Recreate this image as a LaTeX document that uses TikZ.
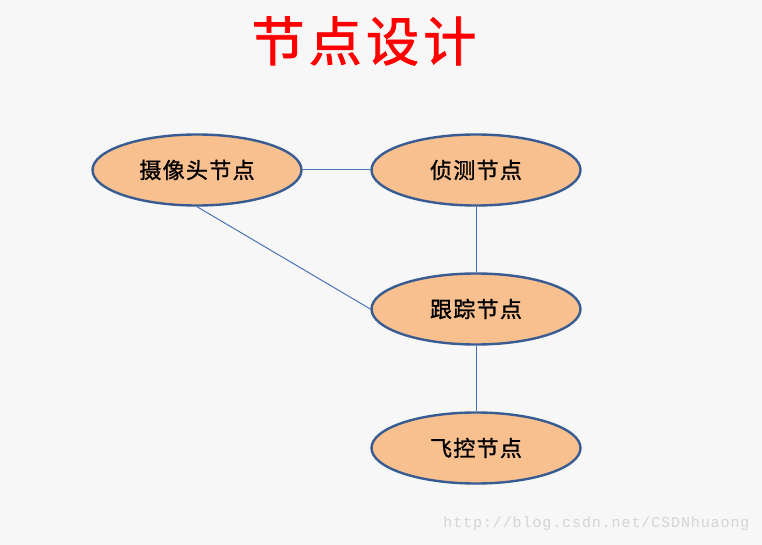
\documentclass[tikz,border=0pt]{standalone}
\usepackage{fontspec}
\setmainfont{Liberation Serif}
\newfontfamily\cjkspaced[LetterSpace=6,FakeBold=1.2]{Noto Sans CJK SC}
\newfontfamily\cjktitle[LetterSpace=8,FakeBold=1.5]{Noto Sans CJK SC}
\newfontfamily\wmfont[LetterSpace=6]{Liberation Mono}
\usetikzlibrary{shapes.geometric}
\definecolor{bgc}{HTML}{F7F7F7}
\definecolor{nodefill}{HTML}{F8C08F}
\definecolor{nodeedge}{HTML}{385C91}
\definecolor{linkc}{HTML}{4A73B4}
\definecolor{wmc}{HTML}{D4D4D4}
\tikzset{
  nodeell/.style={ellipse, draw=nodeedge, line width=2.4pt, fill=nodefill,
    minimum width=209pt, minimum height=71pt, inner sep=0pt,
    font=\cjkspaced\fontsize{22}{26}\selectfont, text=black},
  link/.style={draw=linkc, line width=1pt},
  titlestyle/.style={font=\cjktitle\fontsize{53}{60}\selectfont, text=red},
}
\begin{document}
\begin{tikzpicture}[x=1pt,y=-1pt]
\fill[bgc] (0,0) rectangle (762,545);
\useasboundingbox (0,0) rectangle (762,545);
\node[titlestyle] (title) at (364,41) {节点设计};
\node[nodeell] (cam) at (197,170) {摄像头节点};
\node[nodeell] (det) at (476,170) {侦测节点};
\node[nodeell] (trk) at (476,309) {跟踪节点};
\node[nodeell] (fly) at (476,448) {飞控节点};
\draw[link] (cam.east) -- (det.west);
\draw[link] (det.south) -- (trk.north);
\draw[link] (cam.south) -- (trk.west);
\draw[link] (trk.south) -- (fly.north);
\node[font=\wmfont\fontsize{15}{18}\selectfont, text=wmc, anchor=east] (wm) at (753,524) {http://blog.csdn.net/CSDNhuaong};
\end{tikzpicture}
\end{document}
